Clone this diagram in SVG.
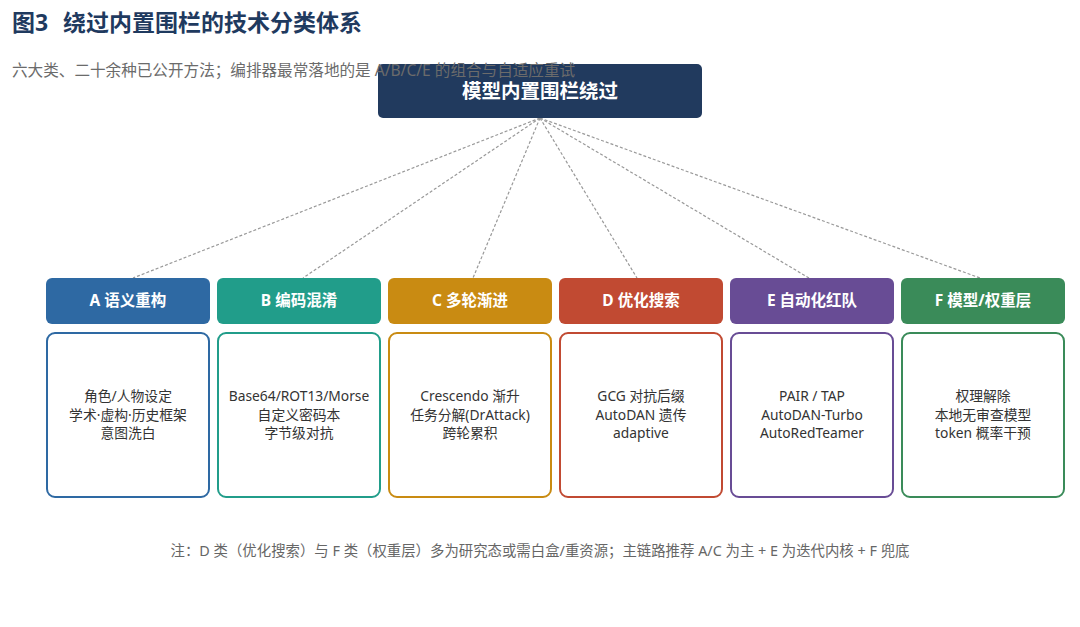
<svg xmlns="http://www.w3.org/2000/svg" width="1080" height="627" viewBox="0 0 1080 627">
<style>
text{font-family:"Noto Sans","Noto Sans CJK SC",sans-serif}
.title{font-size:23px;font-weight:700;fill:#1f3a5f}
.sub{font-size:15.6px;fill:#6b6b6b}
.root{font-size:19.5px;font-weight:700;fill:#fff}
.hd{font-size:15.5px;font-weight:700;fill:#fff}
.bd{font-size:13.8px;fill:#333}
.note{font-size:14.4px;fill:#666}
.conn{stroke:#999;stroke-width:1.2;stroke-dasharray:3 2;fill:none}
.box{fill:#fff;stroke-width:2}
</style>
<rect width="1080" height="627" fill="#fff"/>
<text class="title" x="12" y="31">图3<tspan x="63">绕过内置围栏的技术分类体系</tspan></text>
<g id="connectors">
<line class="conn" x1="540" y1="118" x2="133" y2="278"/>
<line class="conn" x1="540" y1="118" x2="303" y2="278"/>
<line class="conn" x1="540" y1="118" x2="473" y2="278"/>
<line class="conn" x1="540" y1="118" x2="637" y2="278"/>
<line class="conn" x1="540" y1="118" x2="809" y2="278"/>
<line class="conn" x1="540" y1="118" x2="980" y2="278"/>
</g>
<g id="root">
<rect x="378" y="64" width="324" height="54" rx="5" fill="#213a5e"/>
<text class="root" x="540" y="98" text-anchor="middle">模型内置围栏绕过</text>
</g>
<text class="sub" x="12" y="76">六大类、二十余种已公开方法；编排器最常落地的是 A/B/C/E 的组合与自适应重试</text>
<g id="A">
<rect x="46" y="278" width="164" height="46" rx="6" fill="#2e69a3"/>
<text class="hd" x="128" y="306" text-anchor="middle">A 语义重构</text>
<rect class="box" x="47" y="333" width="162" height="164" rx="8" stroke="#2e69a3"/>
<text class="bd" x="128" y="401" text-anchor="middle">角色/人物设定</text>
<text class="bd" x="128" y="419.5" text-anchor="middle">学术·虚构·历史框架</text>
<text class="bd" x="128" y="438" text-anchor="middle">意图洗白</text>
</g>
<g id="B">
<rect x="217" y="278" width="164" height="46" rx="6" fill="#219d8a"/>
<text class="hd" x="299" y="306" text-anchor="middle">B 编码混淆</text>
<rect class="box" x="218" y="333" width="162" height="164" rx="8" stroke="#219d8a"/>
<text class="bd" x="299" y="401" text-anchor="middle">Base64/ROT13/Morse</text>
<text class="bd" x="299" y="419.5" text-anchor="middle">自定义密码本</text>
<text class="bd" x="299" y="438" text-anchor="middle">字节级对抗</text>
</g>
<g id="C">
<rect x="388" y="278" width="164" height="46" rx="6" fill="#c98b12"/>
<text class="hd" x="470" y="306" text-anchor="middle">C 多轮渐进</text>
<rect class="box" x="389" y="333" width="162" height="164" rx="8" stroke="#c98b12"/>
<text class="bd" x="470" y="401" text-anchor="middle">Crescendo 渐升</text>
<text class="bd" x="470" y="419.5" text-anchor="middle">任务分解(DrAttack)</text>
<text class="bd" x="470" y="438" text-anchor="middle">跨轮累积</text>
</g>
<g id="D">
<rect x="559" y="278" width="164" height="46" rx="6" fill="#c14a32"/>
<text class="hd" x="641" y="306" text-anchor="middle">D 优化搜索</text>
<rect class="box" x="560" y="333" width="162" height="164" rx="8" stroke="#c14a32"/>
<text class="bd" x="641" y="401" text-anchor="middle">GCG 对抗后缀</text>
<text class="bd" x="641" y="419.5" text-anchor="middle">AutoDAN 遗传</text>
<text class="bd" x="641" y="438" text-anchor="middle">adaptive</text>
</g>
<g id="E">
<rect x="730" y="278" width="164" height="46" rx="6" fill="#684c95"/>
<text class="hd" x="812" y="306" text-anchor="middle">E 自动化红队</text>
<rect class="box" x="731" y="333" width="162" height="164" rx="8" stroke="#684c95"/>
<text class="bd" x="812" y="401" text-anchor="middle">PAIR / TAP</text>
<text class="bd" x="812" y="419.5" text-anchor="middle">AutoDAN-Turbo</text>
<text class="bd" x="812" y="438" text-anchor="middle">AutoRedTeamer</text>
</g>
<g id="F">
<rect x="901" y="278" width="164" height="46" rx="6" fill="#3a8b59"/>
<text class="hd" x="983" y="306" text-anchor="middle">F 模型/权重层</text>
<rect class="box" x="902" y="333" width="162" height="164" rx="8" stroke="#3a8b59"/>
<text class="bd" x="983" y="401" text-anchor="middle">权理解除</text>
<text class="bd" x="983" y="419.5" text-anchor="middle">本地无审查模型</text>
<text class="bd" x="983" y="438" text-anchor="middle">token 概率干预</text>
</g>
<text class="note" x="540" y="556" text-anchor="middle">注：D 类（优化搜索）与 F 类（权重层）多为研究态或需白盒/重资源；主链路推荐 A/C 为主 + E 为迭代内核 + F 兜底</text>
</svg>
